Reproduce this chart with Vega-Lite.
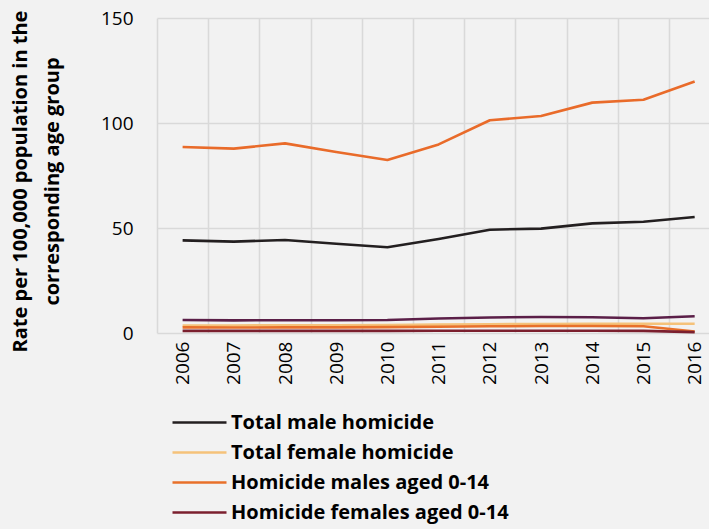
{
  "$schema": "https://vega.github.io/schema/vega-lite/v6.json",
  "autosize": {"type": "none"},
  "padding": {"left": 157, "top": 18, "right": 0, "bottom": 196},
  "width": 552,
  "height": 315,
  "background": "#f2f2f2",
  "config": {
    "view": {"stroke": null},
    "font": "Open Sans"
  },
  "datasets": {
    "rates": [
      {"year": 2006, "series": "Total male homicide", "rate": 44.1},
      {"year": 2007, "series": "Total male homicide", "rate": 43.5},
      {"year": 2008, "series": "Total male homicide", "rate": 44.3},
      {"year": 2009, "series": "Total male homicide", "rate": 42.5},
      {"year": 2010, "series": "Total male homicide", "rate": 40.8},
      {"year": 2011, "series": "Total male homicide", "rate": 44.8},
      {"year": 2012, "series": "Total male homicide", "rate": 49.2},
      {"year": 2013, "series": "Total male homicide", "rate": 49.7},
      {"year": 2014, "series": "Total male homicide", "rate": 52.2},
      {"year": 2015, "series": "Total male homicide", "rate": 53.0},
      {"year": 2016, "series": "Total male homicide", "rate": 55.2},
      {"year": 2006, "series": "Total female homicide", "rate": 3.6},
      {"year": 2007, "series": "Total female homicide", "rate": 3.6},
      {"year": 2008, "series": "Total female homicide", "rate": 3.7},
      {"year": 2009, "series": "Total female homicide", "rate": 3.7},
      {"year": 2010, "series": "Total female homicide", "rate": 3.8},
      {"year": 2011, "series": "Total female homicide", "rate": 4.0},
      {"year": 2012, "series": "Total female homicide", "rate": 4.2},
      {"year": 2013, "series": "Total female homicide", "rate": 4.3},
      {"year": 2014, "series": "Total female homicide", "rate": 4.4},
      {"year": 2015, "series": "Total female homicide", "rate": 4.4},
      {"year": 2016, "series": "Total female homicide", "rate": 4.4},
      {"year": 2006, "series": "Homicide males aged 0-14", "rate": 2.7},
      {"year": 2007, "series": "Homicide males aged 0-14", "rate": 2.6},
      {"year": 2008, "series": "Homicide males aged 0-14", "rate": 2.7},
      {"year": 2009, "series": "Homicide males aged 0-14", "rate": 2.7},
      {"year": 2010, "series": "Homicide males aged 0-14", "rate": 2.8},
      {"year": 2011, "series": "Homicide males aged 0-14", "rate": 3.0},
      {"year": 2012, "series": "Homicide males aged 0-14", "rate": 3.2},
      {"year": 2013, "series": "Homicide males aged 0-14", "rate": 3.3},
      {"year": 2014, "series": "Homicide males aged 0-14", "rate": 3.3},
      {"year": 2015, "series": "Homicide males aged 0-14", "rate": 3.2},
      {"year": 2016, "series": "Homicide males aged 0-14", "rate": 0.7},
      {"year": 2006, "series": "Homicide females aged 0-14", "rate": 1.0},
      {"year": 2007, "series": "Homicide females aged 0-14", "rate": 1.0},
      {"year": 2008, "series": "Homicide females aged 0-14", "rate": 1.0},
      {"year": 2009, "series": "Homicide females aged 0-14", "rate": 1.0},
      {"year": 2010, "series": "Homicide females aged 0-14", "rate": 1.0},
      {"year": 2011, "series": "Homicide females aged 0-14", "rate": 1.1},
      {"year": 2012, "series": "Homicide females aged 0-14", "rate": 1.1},
      {"year": 2013, "series": "Homicide females aged 0-14", "rate": 1.1},
      {"year": 2014, "series": "Homicide females aged 0-14", "rate": 1.1},
      {"year": 2015, "series": "Homicide females aged 0-14", "rate": 1.0},
      {"year": 2016, "series": "Homicide females aged 0-14", "rate": 0.4},
      {"year": 2006, "series": "Homicide males aged 15-29", "rate": 88.6},
      {"year": 2007, "series": "Homicide males aged 15-29", "rate": 87.8},
      {"year": 2008, "series": "Homicide males aged 15-29", "rate": 90.3},
      {"year": 2009, "series": "Homicide males aged 15-29", "rate": 86.2},
      {"year": 2010, "series": "Homicide males aged 15-29", "rate": 82.4},
      {"year": 2011, "series": "Homicide males aged 15-29", "rate": 89.8},
      {"year": 2012, "series": "Homicide males aged 15-29", "rate": 101.3},
      {"year": 2013, "series": "Homicide males aged 15-29", "rate": 103.3},
      {"year": 2014, "series": "Homicide males aged 15-29", "rate": 109.7},
      {"year": 2015, "series": "Homicide males aged 15-29", "rate": 111.1},
      {"year": 2016, "series": "Homicide males aged 15-29", "rate": 119.8},
      {"year": 2006, "series": "Homicide females aged 15-29", "rate": 6.2},
      {"year": 2007, "series": "Homicide females aged 15-29", "rate": 6.0},
      {"year": 2008, "series": "Homicide females aged 15-29", "rate": 6.1},
      {"year": 2009, "series": "Homicide females aged 15-29", "rate": 6.1},
      {"year": 2010, "series": "Homicide females aged 15-29", "rate": 6.2},
      {"year": 2011, "series": "Homicide females aged 15-29", "rate": 6.9},
      {"year": 2012, "series": "Homicide females aged 15-29", "rate": 7.4},
      {"year": 2013, "series": "Homicide females aged 15-29", "rate": 7.6},
      {"year": 2014, "series": "Homicide females aged 15-29", "rate": 7.5},
      {"year": 2015, "series": "Homicide females aged 15-29", "rate": 7.0},
      {"year": 2016, "series": "Homicide females aged 15-29", "rate": 8.0}
    ]
  },
  "data": {"name": "rates"},
  "mark": {"type": "line", "strokeWidth": 2.6, "strokeCap": "butt", "strokeJoin": "round"},
  "encoding": {
    "x": {
      "field": "year",
      "type": "quantitative",
      "scale": {"domain": [2005.5, 2016.28], "nice": false, "zero": false},
      "axis": {
        "title": null,
        "values": [2006, 2007, 2008, 2009, 2010, 2011, 2012, 2013, 2014, 2015, 2016],
        "format": "d",
        "grid": true,
        "gridColor": "#d9d9d9",
        "gridWidth": 1.6,
        "domain": false,
        "ticks": false,
        "tickOffset": -25.6,
        "labelOffset": 25.6,
        "labelAngle": -90,
        "labelAlign": "right",
        "labelBaseline": "middle",
        "labelPadding": 8,
        "labelFontSize": 19,
        "labelColor": "#000000",
        "labelFont": "Open Sans",
        "labelFlush": false,
        "labelOverlap": false
      }
    },
    "y": {
      "field": "rate",
      "type": "quantitative",
      "scale": {"domain": [0, 150], "nice": false},
      "axis": {
        "values": [0, 50, 100, 150],
        "title": ["Rate per 100,000 population in the", "corresponding age group"],
        "titleFont": "Open Sans",
        "titleFontSize": 20,
        "titleFontWeight": "bold",
        "titleColor": "#000000",
        "titleAngle": -90,
        "titleAlign": "center",
        "titleBaseline": "middle",
        "titleLineHeight": 32,
        "titleX": -137,
        "titleY": 163,
        "grid": true,
        "gridColor": "#d9d9d9",
        "gridWidth": 1.6,
        "domain": false,
        "ticks": false,
        "labelPadding": 24,
        "labelFontSize": 19,
        "labelColor": "#000000",
        "labelFont": "Open Sans",
        "labelFlush": false
      }
    },
    "color": {
      "field": "series",
      "type": "nominal",
      "scale": {
        "domain": ["Total male homicide", "Total female homicide", "Homicide males aged 0-14", "Homicide females aged 0-14", "Homicide males aged 15-29", "Homicide females aged 15-29"],
        "range": ["#231f20", "#f5c27a", "#e8702a", "#7b1f2e", "#e96b2a", "#5b1f48"]
      },
      "legend": {
        "title": null,
        "orient": "none",
        "legendX": 31,
        "legendY": 393,
        "values": ["Total male homicide", "Total female homicide", "Homicide males aged 0-14", "Homicide females aged 0-14"],
        "symbolType": "M-2.7,0H2.7",
        "symbolSize": 400,
        "symbolStrokeWidth": 2.6,
        "labelFont": "Open Sans",
        "labelFontSize": 20,
        "labelFontWeight": "bold",
        "labelColor": "#000000",
        "labelOffset": 20,
        "labelLimit": 500,
        "rowPadding": 8,
        "padding": 0
      }
    },
    "order": {"field": "year", "type": "quantitative"}
  }
}
